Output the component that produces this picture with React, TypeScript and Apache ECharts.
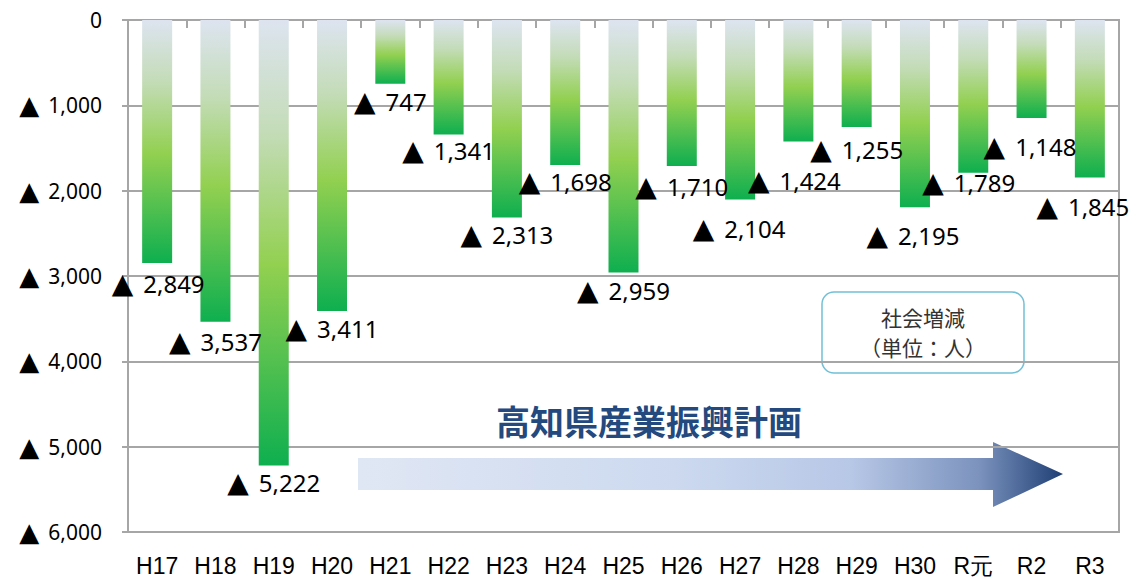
import React, { useEffect, useRef } from "react";
import * as echarts from "echarts";

const categories = ["H17", "H18", "H19", "H20", "H21", "H22", "H23", "H24", "H25", "H26", "H27", "H28", "H29", "H30", "R元", "R2", "R3"];
const socialDecrease = [2849, 3537, 5222, 3411, 747, 1341, 2313, 1698, 2959, 1710, 2104, 1424, 1255, 2195, 1789, 1148, 1845];
const yMin = 0;
const yMax = 6000;
const yInterval = 1000;
const legendLines = ["社会増減", "（単位：人）"];
const planTitle = "高知県産業振興計画";

// layout only: manual nudges of the value labels, in pixels [dx, dy]
const labelNudges: [number, number][] = [
  [1, 2.5], [0, 2.5], [0, -1], [0, -0.5], [0, 0.5], [0, -1], [0, 0], [0, -0.5], [0, 0],
  [0, 3.5], [-1, 11], [-4, 21], [0, 5], [-2, 11], [-4.5, -7.5], [-1.5, 11], [-7, 12],
];

const num = (v: number) => v.toLocaleString("en-US");

const GRAY = "#a6a6a6";

export default function App() {
  const ref = useRef<HTMLDivElement>(null);
  useEffect(() => {
    if (!ref.current) return;
    const chart = echarts.init(ref.current, undefined, { renderer: "svg" });
    const barData = socialDecrease.map((v, i) => ({
      value: v,
      label: { offset: labelNudges[i] },
    }));
    chart.setOption({
      animation: false,
      backgroundColor: "#ffffff",
      grid: {
        left: 128,
        top: 20,
        right: 18,
        bottom: 47,
        show: true,
        borderColor: GRAY,
        borderWidth: 2,
        backgroundColor: "transparent",
      },
      xAxis: [
        {
          type: "category",
          data: categories,
          position: "bottom",
          axisLine: { show: true, lineStyle: { color: GRAY, width: 2 } },
          axisTick: { show: false },
          axisLabel: {
            color: "#000",
            fontSize: 23,
            lineHeight: 23,
            fontFamily: "'Liberation Sans', Arial, sans-serif",
            margin: 22,
            interval: 0,
          },
          splitLine: { show: false },
        },
        {
          type: "category",
          data: categories,
          position: "top",
          axisLine: { show: true, lineStyle: { color: GRAY, width: 2 } },
          axisTick: { show: true, inside: true, length: 8, lineStyle: { color: GRAY, width: 2 } },
          axisLabel: { show: false },
          splitLine: { show: false },
        },
      ],
      yAxis: {
        type: "value",
        inverse: true,
        min: yMin,
        max: yMax,
        interval: yInterval,
        axisLine: { show: true, lineStyle: { color: GRAY, width: 2 } },
        axisTick: { show: true, length: 6, lineStyle: { color: GRAY, width: 2 } },
        splitLine: { show: true, lineStyle: { color: GRAY, width: 2 } },
        axisLabel: {
          color: "#000",
          margin: 26,
          formatter: (v: number) => (v === 0 ? "{n|0}" : "{t|▲}{n|" + num(v) + "}"),
          rich: {
            t: { fontFamily: "'DejaVu Sans'", fontSize: 26, color: "#000", lineHeight: 24, padding: [0, 9, 0, 0] },
            n: { fontFamily: "'Noto Sans', sans-serif", fontSize: 21, color: "#000", lineHeight: 24 },
          },
        },
      },
      series: [
        {
          type: "bar",
          data: barData,
          xAxisIndex: 0,
          barWidth: 30,
          itemStyle: {
            color: new echarts.graphic.LinearGradient(0, 0, 0, 1, [
              { offset: 0, color: "#dde4f0" },
              { offset: 0.25, color: "#c4dcb8" },
              { offset: 0.55, color: "#92d050" },
              { offset: 1, color: "#0eaf4f" },
            ]),
          },
          label: {
            show: true,
            position: "bottom",
            distance: 4.5,
            color: "#000",
            formatter: (p: any) => "{t|▲}{n|" + num(p.value) + "}",
            rich: {
              t: { fontFamily: "'DejaVu Sans'", fontSize: 28, color: "#000", lineHeight: 26, padding: [0, 10, 0, 0] },
              n: { fontFamily: "'Noto Sans', sans-serif", fontSize: 24, color: "#000", lineHeight: 26 },
            },
          },
        },
      ],
      graphic: [
        {
          type: "polygon",
          shape: {
            points: [
              [358, 458],
              [993, 458],
              [993, 442],
              [1063, 474],
              [993, 507],
              [993, 490],
              [358, 490],
            ],
          },
          style: {
            fill: new echarts.graphic.LinearGradient(0, 0, 1, 0, [
              { offset: 0, color: "#e0e7f4" },
              { offset: 0.45, color: "#ccd9ef" },
              { offset: 0.7, color: "#b7c7e6" },
              { offset: 0.88, color: "#7c93be" },
              { offset: 1, color: "#1f3f75" },
            ]),
          },
        },
        {
          type: "text",
          x: 649,
          y: 420,
          style: {
            text: planTitle,
            fill: "#23497e",
            font: "bold 34px 'Noto Sans CJK JP', sans-serif",
            align: "center",
            verticalAlign: "middle",
          },
        },
        {
          type: "rect",
          shape: { x: 822, y: 292, width: 202, height: 81, r: 12 },
          style: { fill: "#ffffff", stroke: "#72c0d6", lineWidth: 1.5 },
        },
        {
          type: "text",
          x: 923,
          y: 317,
          style: {
            text: legendLines[0],
            fill: "#333333",
            fontSize: 21,
            lineHeight: 21,
            fontFamily: "'Noto Sans CJK JP', sans-serif",
            align: "center",
            verticalAlign: "middle",
          },
        },
        {
          type: "text",
          x: 923,
          y: 347,
          style: {
            text: legendLines[1],
            fill: "#333333",
            fontSize: 21,
            lineHeight: 21,
            fontFamily: "'Noto Sans CJK JP', sans-serif",
            align: "center",
            verticalAlign: "middle",
          },
        },
      ],
    });
    return () => chart.dispose();
  }, []);
  return (
    <div
      ref={ref}
      style={{ position: "fixed", left: 0, top: 0, width: 1137, height: 579 }}
    />
  );
}
